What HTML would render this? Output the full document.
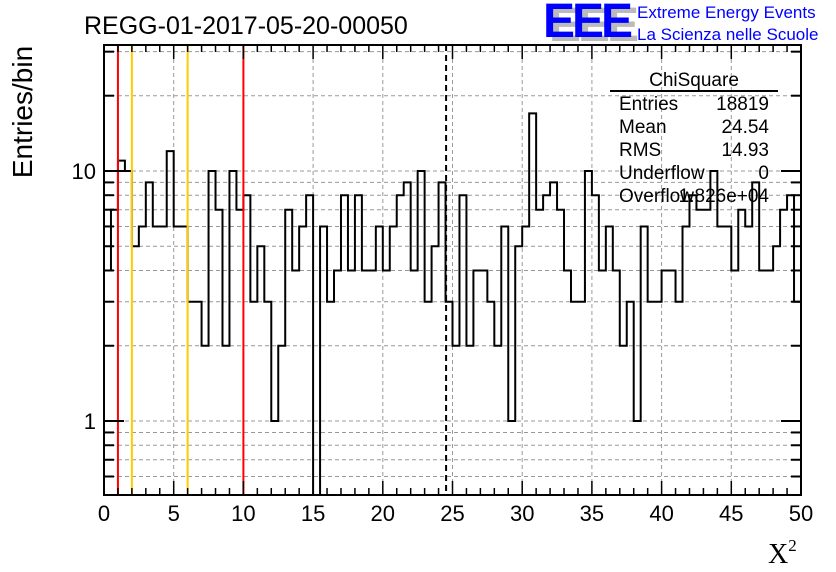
<!DOCTYPE html>
<html><head><meta charset="utf-8">
<style>
body{margin:0;background:#fff;}
svg{display:block;font-family:"Liberation Sans",sans-serif;}
</style></head>
<body>
<svg id="c" width="836" height="572" viewBox="0 0 836 572"></svg>
<script>
const binValues=[4,7,11,10,5,6,9,6,6,12,6,6,3,3,2,10,7,2,10,7,8,3,5,3,1,2,7,4,6,8,0,6,3,4,8,4,8,4,4,6,4,6,8,9,4,10,3,5,9,3,2,8,2,4,4,3,2,6,1,5,6,17,7,8,9,7,4,3,3,10,8,4,6,4,2,3,1,6,3,3,4,4,3,6,8,7,7,10,6,6,4,7,6,9,4,4,5,7,8,3];
const xMin=0,xMax=50,binWidth=0.5;
const xTicks=[0,5,10,15,20,25,30,35,40,45,50];
const yMajor=[1,10];
const yMajorLabels=["1","10"];
const redLines=[1,10];
const yellowLines=[2,6];
const meanValue=24.54;
const statsLabels=["Entries","Mean","RMS","Underflow","Overflow"];
const statsValues=["18819","24.54","14.93","0","1.826e+04"];

const L=104,R=801,T=45,B=495;
const yLo=0.506,yHi=31.9;
const NS="http://www.w3.org/2000/svg";
const svg=document.getElementById('c');
function X(v){return L+(v-xMin)/(xMax-xMin)*(R-L);}
function Y(v){if(v<=0)return B;return B-(Math.log10(v)-Math.log10(yLo))/(Math.log10(yHi)-Math.log10(yLo))*(B-T);}
function mk(tag,attrs,parent){const e=document.createElementNS(NS,tag);for(const k in attrs)e.setAttribute(k,attrs[k]);(parent||svg).appendChild(e);return e;}

const grid=mk('g',{});


xTicks.forEach(v=>{if(v>xMin&&v<xMax)mk('line',{x1:X(v),x2:X(v),y1:T,y2:B,stroke:'#999','stroke-dasharray':'4,3','stroke-width':1},grid);});
const yGridVals=[0.6,0.7,0.8,0.9,1,2,3,4,5,6,7,8,9,10,20,30];
yGridVals.forEach(v=>{mk('line',{x1:L,x2:R,y1:Y(v),y2:Y(v),stroke:'#999','stroke-dasharray':'4,3','stroke-width':1},grid);});

let d='M'+X(xMin)+','+B;
binValues.forEach((v,i)=>{const x0=X(xMin+i*binWidth),x1=X(xMin+(i+1)*binWidth);const y=Y(v);d+=' L'+x0+','+y+' L'+x1+','+y;});
d+=' L'+X(xMax)+','+B;
const hist=mk('path',{d:d,fill:'none',stroke:'#000','stroke-width':2});



redLines.forEach(v=>{const l=mk('line',{x1:X(v),x2:X(v),y1:T,y2:B,stroke:'#f00','stroke-width':2});

});
yellowLines.forEach(v=>{const l=mk('line',{x1:X(v),x2:X(v),y1:T,y2:B,stroke:'#fc0','stroke-width':2});

});
const ml=mk('line',{x1:X(meanValue),x2:X(meanValue),y1:T,y2:B,stroke:'#000','stroke-width':2,'stroke-dasharray':'6,4'});



const fr=mk('rect',{x:L,y:T,width:R-L,height:B-T,fill:'none',stroke:'#000','stroke-width':2});



const xax=mk('g',{});


for(let v=xMin;v<=xMax;v+=1){const maj=(v%5===0);const len=maj?14:7;
mk('line',{x1:X(v),x2:X(v),y1:B,y2:B-len,stroke:'#000','stroke-width':1.5},xax);
mk('line',{x1:X(v),x2:X(v),y1:T,y2:T+len,stroke:'#000','stroke-width':1.5},xax);}
xTicks.forEach(v=>{const t=mk('text',{x:X(v),y:521,'font-size':22,'text-anchor':'middle'},xax);t.textContent=v;});

const yax=mk('g',{});


yGridVals.forEach(v=>{const maj=yMajor.includes(v);const len=maj?20:10;
mk('line',{x1:L,x2:L+len,y1:Y(v),y2:Y(v),stroke:'#000','stroke-width':2},yax);
mk('line',{x1:R,x2:R-len,y1:Y(v),y2:Y(v),stroke:'#000','stroke-width':2},yax);});
yMajor.forEach((v,i)=>{const t=mk('text',{x:96,y:Y(v)+8,'font-size':22,'text-anchor':'end'},yax);t.textContent=yMajorLabels[i];});

const yt=mk('text',{x:32,y:112,'font-size':28,'text-anchor':'middle',transform:'rotate(-90 32 112)'});
yt.textContent='Entries/bin';


const xt=mk('text',{x:768,y:563,'font-size':28,'font-family':'Liberation Serif, serif'});
xt.innerHTML='X<tspan font-size="17" dy="-12">2</tspan>';



const ti=mk('text',{x:84,y:34,'font-size':25});
ti.textContent='REGG-01-2017-05-20-00050';



const lg=mk('g',{});


const ls=mk('text',{x:549,y:41,'font-size':48,'font-weight':'bold',fill:'#bbb','letter-spacing':'-3'},lg);ls.textContent='EEE';
const lm=mk('text',{x:543,y:37,'font-size':48,'font-weight':'bold',fill:'#0000ff','letter-spacing':'-3'},lg);lm.textContent='EEE';
const l1=mk('text',{x:637,y:18,'font-size':17,fill:'#0000ff'},lg);l1.textContent='Extreme Energy Events';
const l2=mk('text',{x:637,y:40,'font-size':17,fill:'#0000ff'},lg);l2.textContent='La Scienza nelle Scuole';

const st=mk('g',{});


const sh=mk('text',{x:694,y:86,'font-size':19,'text-anchor':'middle'},st);sh.textContent='ChiSquare';
mk('line',{x1:610,x2:778,y1:91,y2:91,stroke:'#000','stroke-width':2},st);
statsLabels.forEach((s,i)=>{const y=110+i*23;
const a=mk('text',{x:619,y:y,'font-size':19},st);a.textContent=s;
const b=mk('text',{x:769,y:y,'font-size':19,'text-anchor':'end'},st);b.textContent=statsValues[i];});
</script>
</body></html>
